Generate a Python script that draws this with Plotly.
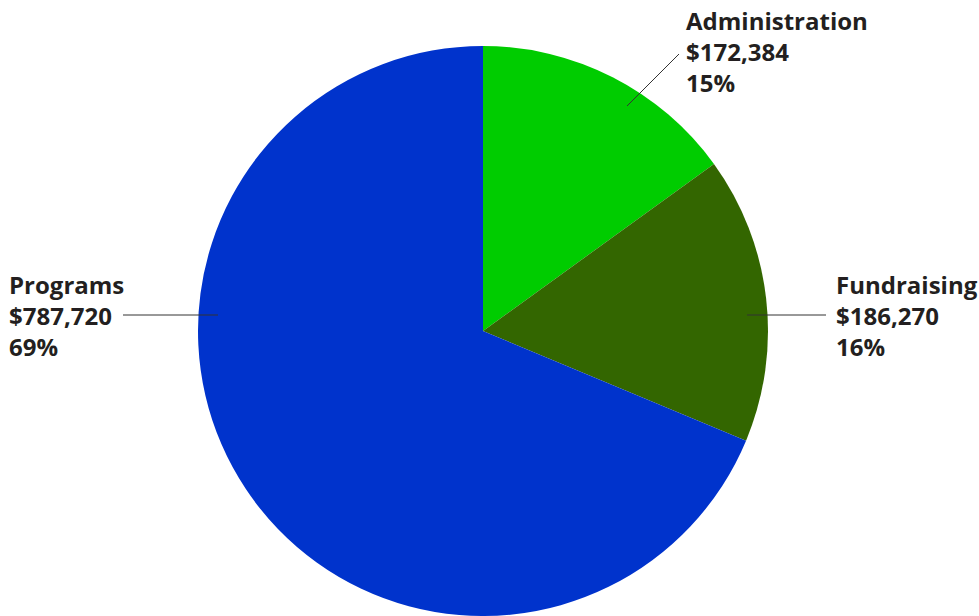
import plotly.graph_objects as go

categories = ["Administration", "Fundraising", "Programs"]
amounts = [172384, 186270, 787720]
percents = ["15%", "16%", "69%"]
colors = ["#00CC00", "#336600", "#0033CC"]

W, H = 979, 616

def px(x):
    return x / W

def py(y):
    return 1 - y / H

fig = go.Figure(go.Pie(
    labels=categories,
    values=amounts,
    sort=False,
    direction="clockwise",
    rotation=0,
    marker=dict(colors=colors, line=dict(width=0)),
    textinfo="none",
    hoverinfo="label+value+percent",
    showlegend=False,
    domain=dict(x=[0, 966 / 979], y=[0, 570 / 616]),
))

# label layout: (text x, text middle-line y, leader start, leader end)
label_layout = {
    "Administration": dict(tx=684, ty=52, line=((627, 106), (679, 54))),
    "Fundraising": dict(tx=834, ty=315, line=((747, 315), (826, 315))),
    "Programs": dict(tx=7, ty=315, line=((123, 315), (218, 315))),
}

font = dict(family="Open Sans, Noto Sans, sans-serif", size=24, color="#231F20")
for cat, amt, pct in zip(categories, amounts, percents):
    L = label_layout[cat]
    fig.add_annotation(
        x=px(L["tx"]), y=py(L["ty"]), xref="paper", yref="paper",
        xanchor="left", yanchor="middle", align="left", showarrow=False,
        text=f"<b>{cat}<br>${amt:,}<br>{pct}</b>", font=font,
    )
    (x0, y0), (x1, y1) = L["line"]
    fig.add_shape(type="line", xref="paper", yref="paper",
                  x0=px(x0), y0=py(y0), x1=px(x1), y1=py(y1),
                  line=dict(color="#333333", width=1))

fig.update_layout(
    width=W, height=H,
    margin=dict(l=0, r=0, t=0, b=0),
    paper_bgcolor="white", plot_bgcolor="white",
)

fig.write_html("out.html")
